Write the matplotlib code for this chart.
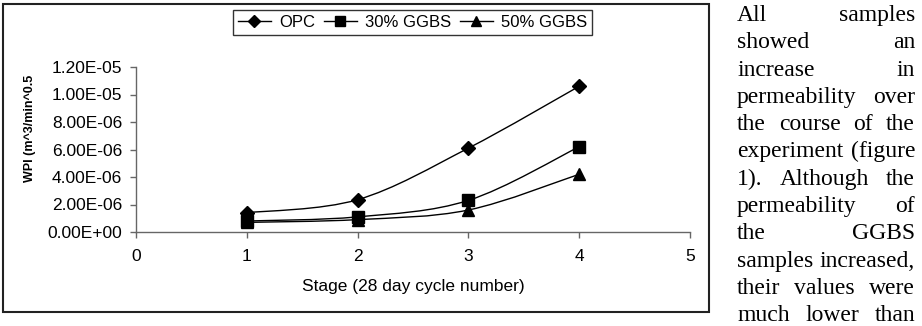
import matplotlib as mpl
mpl.use('agg')
import matplotlib.pyplot as plt
from matplotlib.path import Path
from matplotlib.patches import PathPatch, Rectangle
from matplotlib.lines import Line2D
import numpy as np

# data
stage = [1, 2, 3, 4]
opc = [1.40e-6, 2.35e-6, 6.10e-6, 1.06e-5]
ggbs30 = [0.80e-6, 1.10e-6, 2.30e-6, 6.20e-6]
ggbs50 = [0.70e-6, 0.90e-6, 1.60e-6, 4.20e-6]
names = ["OPC", "30% GGBS", "50% GGBS"]
markers = ['D', 's', '^']
xticks = [0, 1, 2, 3, 4, 5]
yticks = [0, 2e-6, 4e-6, 6e-6, 8e-6, 1.0e-5, 1.2e-5]

body_lines = ["All samples", "showed an", "increase in", "permeability over",
              "the course of the", "experiment (figure", "1). Although the",
              "permeability of", "the GGBS", "samples increased,",
              "their values were", "much lower than"]

plt.rcParams['font.family'] = 'Liberation Sans'
W, H = 922, 326


def smooth_path(xs, ys):
    # excel-style smoothed line (catmull-rom as cubic bezier)
    pts = np.column_stack([xs, ys]).astype(float)
    n = len(pts)
    verts = [pts[0]]
    codes = [Path.MOVETO]
    for i in range(n - 1):
        p0 = pts[max(i - 1, 0)]
        p1 = pts[i]
        p2 = pts[i + 1]
        p3 = pts[min(i + 2, n - 1)]
        verts += [p1 + (p2 - p0) / 6, p2 - (p3 - p1) / 6, p2]
        codes += [Path.CURVE4] * 3
    return Path(verts, codes)


fig = plt.figure(figsize=(W / 100, H / 100), dpi=100)

# outer chart frame
fig.patches.append(Rectangle((3 / W, 1 - 312 / H), 706 / W, 308 / H, transform=fig.transFigure,
                             fill=False, edgecolor='#222222', linewidth=1.5))

ax = fig.add_axes([136 / W, 1 - 232 / H, 554 / W, 165 / H])
ax.set_xlim(0, 5)
ax.set_ylim(0, 1.2e-5)

for vals, m in zip([opc, ggbs30, ggbs50], markers):
    ax.add_patch(PathPatch(smooth_path(stage, vals), fill=False, edgecolor='black', linewidth=1.0))
    ax.plot(stage, vals, linestyle='none', marker=m, color='black', markersize=8 if m != 'D' else 7,
            clip_on=False, zorder=3)

for s in ['top', 'right']:
    ax.spines[s].set_visible(False)
for s in ['left', 'bottom']:
    ax.spines[s].set_color('#666666')
    ax.spines[s].set_linewidth(1.0)

ax.set_xticks(xticks)
ax.set_yticks(yticks)
ax.set_yticklabels(['{:.2E}'.format(v) for v in yticks])
ax.tick_params(axis='both', direction='out', length=4, width=1, color='#666666', labelsize=12.5)
ax.tick_params(axis='x', pad=8)
ax.tick_params(axis='y', pad=6)
ax.set_xlabel("Stage (28 day cycle number)", fontsize=12.5, labelpad=11)

fig.text(30 / W, 1 - 128 / H, "WPI (m^3/min^0.5", rotation=90, ha='center', va='center',
         fontsize=9, fontweight='bold')

handles = [Line2D([0], [0], color='black', linewidth=1.0, marker=m,
                  markersize=7 if m != 'D' else 6) for m in markers]
leg = fig.legend(handles, names, loc='center', bbox_to_anchor=(412.5 / W, 1 - 22.5 / H), ncol=3,
                 frameon=True, fancybox=False, edgecolor='black', fontsize=12, handlelength=2.0,
                 handletextpad=0.5, columnspacing=0.5, borderpad=0.3)
leg.get_frame().set_linewidth(1.0)

# justified body text on the right
renderer = fig.canvas.get_renderer()
x0, x1 = 737, 915
for i, line in enumerate(body_lines):
    yb = 21 + i * 27.3
    words = line.split()
    txts = [fig.text(0, 1 - yb / H, w, fontsize=17, family='Liberation Serif', va='baseline', ha='left')
            for w in words]
    widths = [t.get_window_extent(renderer).width for t in txts]
    gap = (x1 - x0 - sum(widths)) / max(len(words) - 1, 1)
    x = x0
    for t, w in zip(txts, widths):
        t.set_x(x / W)
        x += w + gap

fig.savefig("out.png", dpi=100)
